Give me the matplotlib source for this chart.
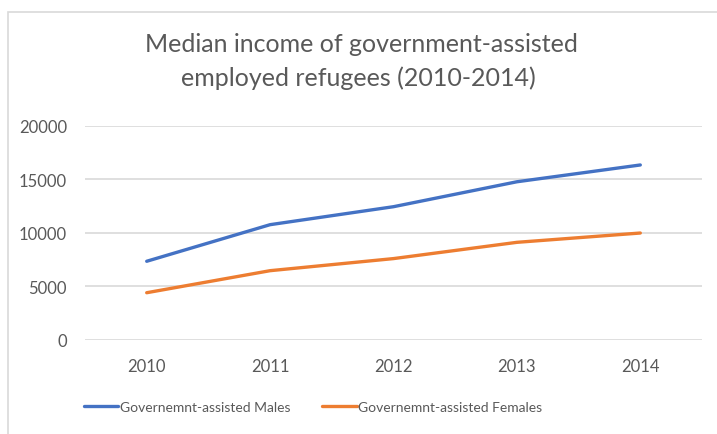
import matplotlib.pyplot as plt
from matplotlib.patches import Rectangle

years = ["2010", "2011", "2012", "2013", "2014"]
males = [7330, 10750, 12430, 14760, 16330]
females = [4390, 6450, 7580, 9100, 9970]
y_ticks = [0, 5000, 10000, 15000, 20000]

plt.rcParams["font.family"] = ["Lato", "DejaVu Sans"]
text_grey = "#595959"
grid_grey = "#d9d9d9"

W, H = 717, 435
fig = plt.figure(figsize=(W / 100, H / 100), dpi=100)
ax = fig.add_axes([85 / W, 1 - 340.7 / H, 617 / W, 214 / H])

# chart frame (left and top edges visible)
fig.patches.append(Rectangle((7.5 / W, -0.1), 1.2, 1 - 13 / H + 0.1,
                             transform=fig.transFigure, fill=False,
                             edgecolor=grid_grey, linewidth=1.2))

x = range(len(years))
ax.plot(x, males, color="#4472C4", linewidth=2.4, solid_capstyle="round",
        label="Governemnt-assisted Males")
ax.plot(x, females, color="#ED7D31", linewidth=2.4, solid_capstyle="round",
        label="Governemnt-assisted Females")

ax.set_xlim(-0.5, len(years) - 0.5)
ax.set_ylim(0, 20000)
ax.set_xticks(list(x))
ax.set_xticklabels(years)
ax.set_yticks(y_ticks)
ax.yaxis.grid(True, color=grid_grey, linewidth=1.2)
ax.set_axisbelow(True)
for s in ax.spines.values():
    s.set_visible(False)
ax.tick_params(length=0, labelsize=12, labelcolor=text_grey)
ax.tick_params(axis="y", pad=13)
ax.tick_params(axis="x", pad=13)

fig.text(361 / W, 1 - 45 / H, "Median income of government-assisted",
         ha="center", va="center", fontsize=18, color=text_grey)
fig.text(358 / W, 1 - 78 / H, "employed refugees (2010-2014)",
         ha="center", va="center", fontsize=18, color=text_grey)

fig.legend(loc="center", bbox_to_anchor=(313 / W, 1 - 408 / H), ncol=2,
           frameon=False, fontsize=10, labelcolor=text_grey, handlelength=2.5,
           handletextpad=0.1, columnspacing=2.3)

fig.savefig("out.png", dpi=100)
